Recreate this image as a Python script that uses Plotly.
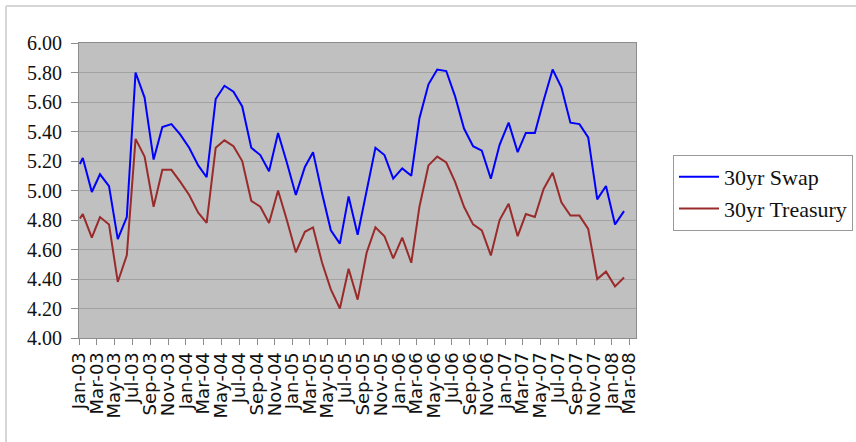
import plotly.graph_objects as go

dates = [
    "2003-01-02",
    "2003-01-12", "2003-02-12", "2003-03-12", "2003-04-12", "2003-05-12", "2003-06-12",
    "2003-07-12", "2003-08-12", "2003-09-12", "2003-10-12", "2003-11-12", "2003-12-12",
    "2004-01-12", "2004-02-12", "2004-03-12", "2004-04-12", "2004-05-12", "2004-06-12",
    "2004-07-12", "2004-08-12", "2004-09-12", "2004-10-12", "2004-11-12", "2004-12-12",
    "2005-01-12", "2005-02-12", "2005-03-12", "2005-04-12", "2005-05-12", "2005-06-12",
    "2005-07-12", "2005-08-12", "2005-09-12", "2005-10-12", "2005-11-12", "2005-12-12",
    "2006-01-12", "2006-02-12", "2006-03-12", "2006-04-12", "2006-05-12", "2006-06-12",
    "2006-07-12", "2006-08-12", "2006-09-12", "2006-10-12", "2006-11-12", "2006-12-12",
    "2007-01-12", "2007-02-12", "2007-03-12", "2007-04-12", "2007-05-12", "2007-06-12",
    "2007-07-12", "2007-08-12", "2007-09-12", "2007-10-12", "2007-11-12", "2007-12-12",
    "2008-01-12", "2008-02-12",
]

swap_30yr = [
    5.18,
    5.22, 4.99, 5.11, 5.03, 4.67, 4.82, 5.80, 5.63, 5.21, 5.43, 5.45, 5.38,
    5.29, 5.17, 5.09, 5.62, 5.71, 5.67, 5.57, 5.29, 5.24, 5.13, 5.39, 5.19,
    4.97, 5.16, 5.26, 4.98, 4.73, 4.64, 4.96, 4.70, 5.00, 5.29, 5.24, 5.08,
    5.15, 5.10, 5.49, 5.72, 5.82, 5.81, 5.64, 5.42, 5.30, 5.27, 5.08, 5.31,
    5.46, 5.26, 5.39, 5.39, 5.61, 5.82, 5.70, 5.46, 5.45, 5.36, 4.94, 5.03,
    4.77, 4.86,
]

treasury_30yr = [
    4.81,
    4.84, 4.68, 4.82, 4.77, 4.38, 4.56, 5.35, 5.23, 4.89, 5.14, 5.14, 5.06,
    4.97, 4.85, 4.78, 5.29, 5.34, 5.30, 5.20, 4.93, 4.89, 4.78, 5.00, 4.80,
    4.58, 4.72, 4.75, 4.51, 4.33, 4.20, 4.47, 4.26, 4.58, 4.75, 4.69, 4.54,
    4.68, 4.51, 4.89, 5.17, 5.23, 5.19, 5.06, 4.89, 4.77, 4.73, 4.56, 4.80,
    4.91, 4.69, 4.84, 4.82, 5.01, 5.12, 4.92, 4.83, 4.83, 4.74, 4.40, 4.45,
    4.35, 4.41,
]

series_names = ["30yr Swap", "30yr Treasury"]
series_colors = ["#0000ff", "#9a2b2b"]

fig = go.Figure()
for name, vals, col, grp in zip(series_names, [swap_30yr, treasury_30yr], series_colors, ["a", "b"]):
    fig.add_trace(go.Scatter(
        x=dates, y=vals, mode="lines", name=name, legendgroup=grp,
        line=dict(color=col, width=2),
    ))

# target plot area in page pixels (body margin removed by post_script)
L, R, T, B = 79, 636, 43, 338
W, H = 856, 442
pw, ph = R - L, B - T

def px_to_paper_x(px):
    return (px - L) / pw

def px_to_paper_y(py):
    return (B - py) / ph

fig.update_layout(
    width=W, height=H,
    margin=dict(l=L, r=W - R, t=T, b=H - B, pad=0, autoexpand=False),
    paper_bgcolor="white",
    plot_bgcolor="#c0c0c0",
    showlegend=True,
    legend=dict(
        x=px_to_paper_x(673), y=px_to_paper_y(155),
        xanchor="left", yanchor="top",
        bgcolor="white", bordercolor="#9a9a9a", borderwidth=1,
        font=dict(family="Liberation Serif", size=22, color="#111"),
        tracegroupgap=0, traceorder="grouped",
        itemwidth=40,
    ),
    xaxis=dict(
        type="date",
        range=["2002-12-30", "2008-03-24"],
        tick0="2003-01-01", dtick="M2",
        tickformat="%b-%y",
        tickangle=-90,
        tickfont=dict(family="DejaVu Sans", size=18, color="#111"),
        ticks="outside", ticklen=6, tickcolor="#8c8c8c",
        showgrid=False,
        showline=True, linecolor="#8c8c8c", linewidth=1, mirror=True,
        zeroline=False,
    ),
    yaxis=dict(
        range=[4.0, 6.0], dtick=0.2, tickformat=".2f",
        tickfont=dict(family="Liberation Serif", size=20, color="#111"),
        ticks="outside", ticklen=7, tickcolor="#8c8c8c",
        ticklabelstandoff=5,
        showgrid=True, gridcolor="#a2a2a2", gridwidth=1,
        showline=True, linecolor="#8c8c8c", linewidth=1, mirror=True,
        zeroline=False,
    ),
    shapes=[
        dict(type="line", xref="paper", yref="paper",
             x0=px_to_paper_x(6), x1=px_to_paper_x(W + 20),
             y0=px_to_paper_y(6), y1=px_to_paper_y(6),
             line=dict(color="#d6d6d6", width=2)),
        dict(type="line", xref="paper", yref="paper",
             x0=px_to_paper_x(6), x1=px_to_paper_x(6),
             y0=px_to_paper_y(6), y1=px_to_paper_y(H + 20),
             line=dict(color="#d6d6d6", width=2)),
    ],
)

fig.write_html(
    "out.html",
    config={"displayModeBar": False},
    post_script="document.body.style.margin='0';document.body.style.overflow='hidden';",
)
